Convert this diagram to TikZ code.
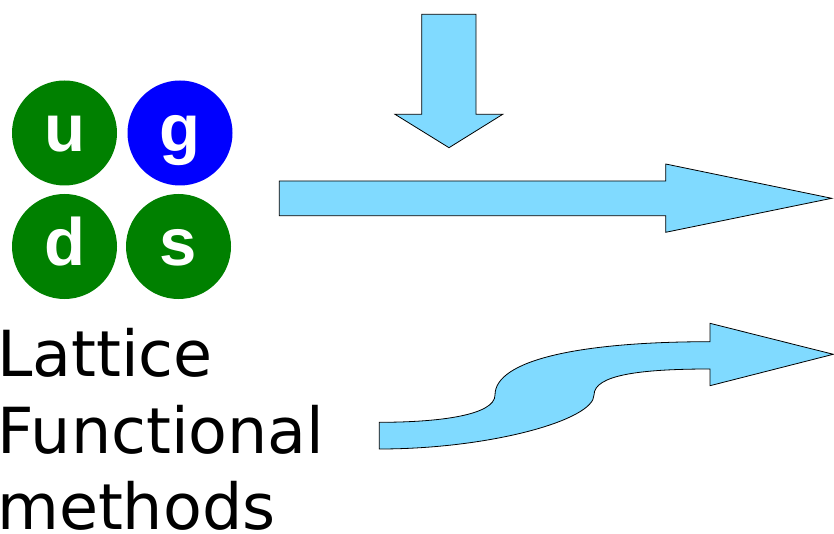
\documentclass[tikz,border=0pt]{standalone}
\usepackage{fontspec}
\setmainfont{DejaVu Sans}
\newfontfamily\quarkfont{Liberation Sans}[BoldFont={Liberation Sans Bold}]
\definecolor{qgreen}{HTML}{008000}
\definecolor{qblue}{HTML}{0000FF}
\definecolor{arrowblue}{HTML}{80DAFF}
\begin{document}
\begin{tikzpicture}[x=1pt,y=-1pt,
  qcirc/.style={circle,minimum size=105pt,inner sep=0pt,text=white,
    font=\quarkfont\bfseries\fontsize{67}{67}\selectfont,
    text height=37.4pt,text depth=0pt},
  bigarrow/.style={fill=arrowblue,draw=black,line width=0.8pt,line join=miter},
  label/.style={anchor=base west,inner sep=0pt,font=\fontsize{63.5}{63.5}\selectfont}]
\path[use as bounding box] (0,0) rectangle (834,534);
% quarks and gluon
\node[qcirc,fill=qgreen] (u) at (64.5,133) {u};
\node[qcirc,fill=qblue] (g) at (180,133) {g};
\node[qcirc,fill=qgreen] (d) at (64.5,246.5) {d};
\node[qcirc,fill=qgreen] (s) at (178.5,246.5) {s};
% labels
\node[label] (lat) at (-3,376) {Lattice};
\node[label] (fun) at (-2.5,453.3) {Functional};
\node[label] (met) at (-3,529) {methods};
% down arrow
\draw[bigarrow] (421.7,14.3) -- (476,14.3) -- (476,114.3) -- (502.7,114.3)
  -- (449,147.7) -- (395,114.3) -- (421.7,114.3) -- cycle;
% right arrow
\draw[bigarrow] (279.3,181) -- (665.7,181) -- (665.7,164) -- (831.7,198.3)
  -- (665.7,232.3) -- (665.7,215.7) -- (279.3,215.7) -- cycle;
% curved arrow
\draw[bigarrow] (379.3,422.3) .. controls (440,422.3) and (495,415) .. (495,395)
  .. controls (495,360) and (580,341.7) .. (710,341.7)
  -- (710,323.3) -- (833.3,354.3) -- (710,385.7) -- (710,369)
  .. controls (640,369) and (594,375) .. (594,395)
  .. controls (594,420) and (490,449) .. (379.3,449) -- cycle;
\end{tikzpicture}
\end{document}
